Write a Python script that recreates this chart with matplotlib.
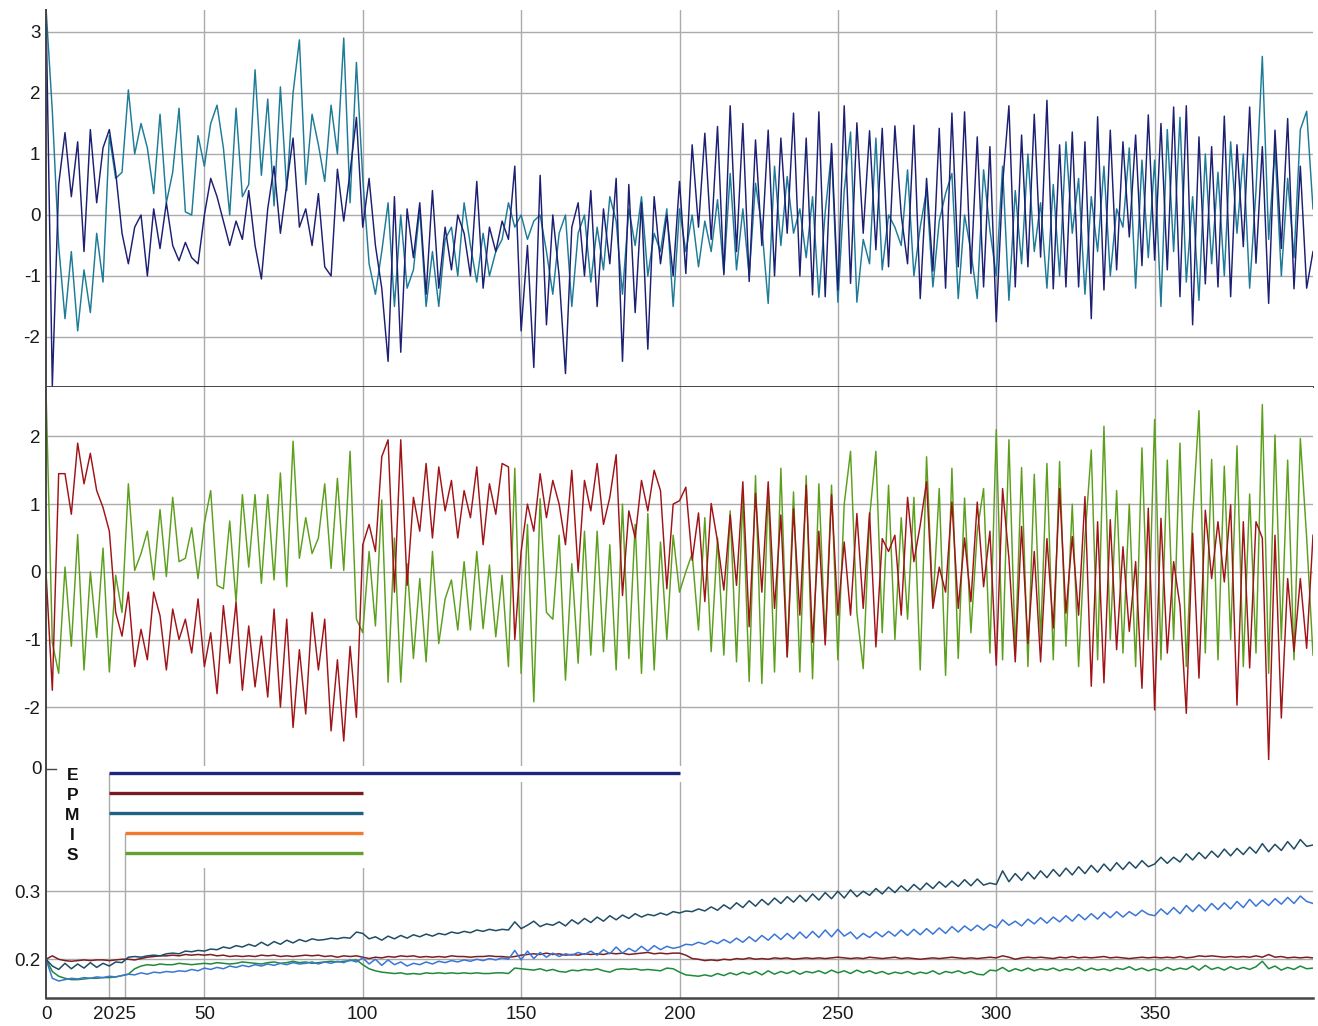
import numpy as np
import matplotlib
matplotlib.use('Agg')
import matplotlib.pyplot as plt
from matplotlib.patches import Rectangle

plt.rcParams['font.family'] = ['Liberation Sans', 'DejaVu Sans']
plt.rcParams['axes.unicode_minus'] = False

# ---- data, one value every 2 steps (x = 0, 2, ..., 400) ----
# upper panel
navy = [3.4, -2.8, 0.5, 1.35, 0.3, 1.2, -0.6, 1.4, 0.2, 1.1, 1.4, 0.7, -0.3, -0.8, -0.2, 0.0, -1.0, 0.1, -0.55, 0.2, -0.5, -0.75, -0.45, -0.7, -0.8,
        0.0, 0.6, 0.3, -0.1, -0.5, -0.1, -0.4, 0.4, -0.5, -1.05, 0.1, 0.8, -0.3, 0.5, 1.26, -0.2, 0.1, -0.5, 0.35, -0.85, -1.0, 0.75, -0.1, 0.7, 1.6,
        -0.2, 0.6, -0.5, -1.2, -2.4, 0.3, -2.25, 0.1, -0.7, 0.2, -1.3, 0.4, -1.2, -0.2, -0.9, 0.0, -0.3, -1.0, 0.55, -1.2, -0.2, -0.6, -0.1, -0.4, 0.8,
        -1.9, -0.5, -2.5, 0.65, -1.8, 0.0, -1.0, -2.6, -0.2, 0.2, -1.0, 0.4, -1.5, 0.1, -0.8, 0.6, -2.4, 0.5, -1.6, 0.2, -2.2, 0.3, -0.8, 0.0, -1.0,
        0.55, -0.96, 1.15, -0.2, 1.34, -0.4, 1.45, -0.98, 1.79, -0.6, 1.5, -1.09, 1.23, -0.5, 1.39, -1.0, 1.26, -0.3, 1.67, -1.0, 1.26, -1.31, 1.69, -1.34, 1.17,
        -1.23, 1.79, -1.12, 1.51, -0.3, 1.38, -0.57, 1.42, -0.85, 1.46, 0.0, -0.8, 1.47, -1.37, 0.6, -0.92, 1.42, -1.2, 1.67, -0.85, 1.69, -0.96, 1.28, -1.18, 1.12,
        -1.75, 0.5, 1.79, -1.18, 1.31, -0.85, 1.65, -0.69, 1.88, -1.21, 1.15, -1.18, 1.36, -1.18, 1.2, -1.7, 1.61, -1.23, 1.39, -0.9, 1.2, -0.36, 1.31, -0.83, 1.64,
        -0.74, 1.5, -0.9, 1.77, -1.34, 1.79, -1.8, 1.28, -1.13, 1.12, -1.18, 1.62, -1.34, 1.15, -0.52, 1.77, -0.79, 1.12, -1.45, 1.39, -0.55, 1.58, -1.21, 0.8, -1.2, -0.6]
teal = [3.4, 1.7, -0.5, -1.7, -0.6, -1.9, -0.9, -1.6, -0.3, -1.1, 1.3, 0.6, 0.7, 2.05, 1.0, 1.5, 1.1, 0.35, 1.65, 0.2, 0.7, 1.75, 0.05, 0.0, 1.3,
        0.8, 1.5, 1.8, 1.1, 0.0, 1.75, 0.3, 0.5, 2.38, 0.65, 1.9, 0.15, 2.1, 0.4, 2.0, 2.87, 0.5, 1.65, 1.15, 0.55, 1.8, 1.0, 2.9, 0.2, 2.5,
        0.6, -0.8, -1.3, -0.6, 0.2, -1.5, 0.0, -1.2, -0.9, 0.1, -1.5, -0.6, -1.5, -0.4, -0.2, -1.0, 0.2, -0.5, -1.1, -0.3, -1.0, -0.6, -0.4, 0.2, -0.2,
        0.0, -0.4, -0.1, 0.0, -0.6, -1.3, -0.3, 0.0, -1.5, -0.3, 0.0, -1.1, -0.2, -0.9, 0.3, -0.1, -1.3, 0.1, -0.5, 0.3, -1.0, -0.3, -0.6, 0.1, -1.5,
        0.1, -0.6, 0.0, -0.85, -0.1, -0.6, 0.25, -0.95, 0.68, -0.9, 0.1, -1.0, 0.52, -0.2, -1.45, 0.8, -0.5, 0.63, -0.3, 0.1, -0.7, 0.3, -1.35, 0.05, 1.03,
        -1.43, 0.4, 1.36, -1.43, -0.4, -0.8, 1.26, -0.9, 0.0, -0.2, -0.5, 0.74, -1.0, -0.2, 0.41, -1.18, -0.1, 0.35, 0.68, -1.37, 0.0, -0.6, -1.37, 0.74, -0.25,
        -1.0, 0.8, -1.4, 0.4, -0.8, 1.0, -0.6, 0.2, -1.2, 0.5, -1.0, 1.2, -0.3, 0.6, -1.3, 0.3, -0.6, 0.8, -1.0, 0.1, -0.2, 1.1, -1.2, 0.9, -0.7,
        0.9, -1.5, 1.4, -0.6, 1.6, -1.1, 0.3, -1.4, 1.0, -0.8, 0.7, -1.0, 1.2, -0.3, 1.0, -1.2, 0.4, 2.6, -0.4, 1.1, -1.0, 0.6, -0.7, 1.4, 1.7, 0.1]

# middle panel
red = [0.0, -1.75, 1.45, 1.45, 0.85, 1.9, 1.3, 1.75, 1.2, 0.95, 0.6, -0.6, -0.95, -0.3, -1.4, -0.85, -1.3, -0.3, -0.65, -1.45, -0.55, -1.0, -0.7, -1.2, -0.4,
       -1.4, -0.9, -1.8, -0.5, -1.35, -0.45, -1.75, -0.8, -1.7, -0.95, -1.85, -0.55, -2.0, -0.7, -2.3, -1.15, -2.1, -0.6, -1.45, -0.7, -2.35, -1.3, -2.5, -1.1, -2.15,
       0.4, 0.7, 0.3, 1.7, 1.95, -0.3, 1.95, -0.2, 1.1, 0.6, 1.6, 0.5, 1.55, 0.9, 1.35, 0.5, 1.2, 0.8, 1.55, 0.4, 1.3, 0.85, 1.6, 1.55, -1.0,
       0.3, 1.0, 0.6, 1.45, 0.8, 1.35, 1.0, 0.4, 1.5, 0.0, 1.35, 0.9, 1.6, 0.7, 1.1, 1.73, -0.35, 0.9, 0.5, 1.35, 0.9, 1.5, 1.2, -0.25, 1.0,
       1.05, 1.25, 0.17, 0.87, -0.44, 1.01, 0.45, -0.27, 0.84, -0.2, 1.33, -0.81, 1.16, -0.3, 1.33, -0.54, 0.84, -1.26, 0.93, -0.64, 1.28, -1.04, 0.6, -1.08, 1.14,
       -0.64, 0.44, -0.64, 0.86, -0.54, 0.87, -1.11, 0.49, 0.3, 0.54, -0.64, 1.1, 0.15, 0.69, 1.33, -0.54, 0.07, -0.3, 1.03, -0.54, 0.5, -0.44, 1.03, -0.22, 0.6,
       -1.38, 1.23, 0.2, -1.33, 0.67, -1.06, 0.3, -1.33, 0.49, -0.83, 1.23, -0.61, 0.52, -0.64, 1.11, -1.69, 0.74, -1.64, 0.77, -1.15, 0.37, -0.88, 0.15, -1.72, 0.94,
       -2.04, 0.79, -1.2, 0.15, -0.5, -2.09, 0.57, -1.57, 0.91, -0.1, 0.74, -0.15, 0.99, -1.97, 0.74, -1.42, 0.74, 0.5, -2.78, 0.54, -2.16, -0.1, -1.18, -0.1, -1.13, 0.54]
green = [2.7, -1.05, -1.5, 0.07, -1.1, 0.55, -1.45, 0.0, -0.97, 0.35, -1.48, -0.05, -0.6, 1.3, 0.02, 0.27, 0.6, -0.12, 0.92, -0.07, 1.1, 0.15, 0.2, 0.65, -0.1,
         0.72, 1.2, -0.2, -0.25, 0.75, -0.45, 1.14, 0.07, 1.14, -0.17, 1.14, -0.12, 1.46, -0.22, 1.93, 0.2, 0.8, 0.27, 0.5, 1.3, 0.05, 1.38, 0.02, 1.78, -0.7,
         -0.9, 0.3, -0.8, 1.06, -1.63, 0.5, -1.63, 0.12, -1.28, -0.1, -1.33, 0.3, -1.06, -0.4, -0.12, -0.86, 0.15, -0.86, 0.3, -0.84, 0.1, -0.96, -0.05, -1.4, 1.53,
         -1.5, 0.7, -1.92, 1.08, -0.6, -0.7, 0.54, -1.6, 0.12, -1.35, 0.6, -1.23, 0.6, -1.18, 0.4, -1.45, 1.0, -1.28, 0.7, -1.5, 0.86, -1.45, 0.44, -1.0, 0.54,
         -0.3, 0.0, 0.27, -0.86, 0.8, -1.18, 0.5, -1.23, 0.9, -1.33, 1.1, -1.62, 1.42, -1.65, 1.23, -1.48, 1.53, -1.25, 1.18, -1.48, 1.42, -1.58, 1.3, -1.03, 1.28,
         -1.3, 1.0, 1.78, -0.6, -1.43, 0.8, 1.78, -0.9, 1.28, -1.0, 0.8, -0.7, 1.1, -1.45, 1.7, -0.5, 1.23, -1.53, 1.53, -1.28, 1.09, -0.9, 0.6, 1.23, -1.2,
         2.1, -1.3, 1.95, -1.2, 1.54, -1.4, 1.44, -1.0, 1.6, -1.3, 1.63, -1.1, 1.0, -1.4, 0.5, 1.8, -1.3, 2.15, -1.0, 1.2, -1.2, 1.0, -1.4, 1.83, -1.0,
         2.25, -1.3, 1.65, -1.0, 1.9, -1.4, 0.8, 2.38, -1.2, 1.66, -1.3, 1.56, -1.0, 1.86, -1.4, 1.15, -1.2, 2.47, -1.5, 2.02, -1.0, 1.65, -1.3, 1.97, 0.5, -1.23]

# lower panel
slate = [0.200, 0.190, 0.185, 0.194, 0.186, 0.193, 0.187, 0.195, 0.188, 0.194, 0.190, 0.196, 0.195, 0.203, 0.204, 0.203, 0.205, 0.206, 0.205, 0.208, 0.209, 0.208, 0.212, 0.211, 0.213,
         0.212, 0.215, 0.214, 0.218, 0.216, 0.220, 0.218, 0.222, 0.219, 0.225, 0.220, 0.226, 0.222, 0.228, 0.224, 0.229, 0.226, 0.230, 0.228, 0.229, 0.231, 0.230, 0.232, 0.231, 0.240,
         0.238, 0.230, 0.233, 0.228, 0.234, 0.230, 0.235, 0.231, 0.236, 0.233, 0.237, 0.234, 0.238, 0.236, 0.240, 0.238, 0.241, 0.239, 0.243, 0.241, 0.244, 0.242, 0.244, 0.243, 0.255,
         0.245, 0.250, 0.256, 0.248, 0.252, 0.250, 0.255, 0.249, 0.258, 0.252, 0.260, 0.254, 0.262, 0.256, 0.264, 0.258, 0.265, 0.260, 0.267, 0.262, 0.266, 0.264, 0.268, 0.265, 0.270,
         0.268, 0.271, 0.270, 0.274, 0.271, 0.277, 0.272, 0.280, 0.274, 0.283, 0.276, 0.286, 0.278, 0.288, 0.280, 0.290, 0.282, 0.292, 0.284, 0.294, 0.285, 0.296, 0.287, 0.298, 0.289,
         0.300, 0.290, 0.302, 0.292, 0.300, 0.294, 0.304, 0.296, 0.306, 0.298, 0.308, 0.300, 0.310, 0.302, 0.312, 0.304, 0.314, 0.306, 0.315, 0.307, 0.317, 0.308, 0.318, 0.309, 0.312,
         0.310, 0.330, 0.314, 0.326, 0.316, 0.328, 0.318, 0.330, 0.320, 0.332, 0.322, 0.334, 0.324, 0.336, 0.326, 0.338, 0.328, 0.340, 0.330, 0.342, 0.332, 0.343, 0.334, 0.345, 0.336,
         0.340, 0.350, 0.341, 0.350, 0.343, 0.355, 0.346, 0.357, 0.348, 0.359, 0.350, 0.362, 0.352, 0.363, 0.354, 0.365, 0.356, 0.370, 0.358, 0.369, 0.360, 0.373, 0.362, 0.376, 0.366, 0.368]
blue = [0.200, 0.172, 0.168, 0.170, 0.172, 0.171, 0.173, 0.172, 0.174, 0.173, 0.175, 0.174, 0.176, 0.178, 0.177, 0.180, 0.178, 0.181, 0.180, 0.182, 0.181, 0.183, 0.182, 0.185, 0.183,
        0.187, 0.185, 0.188, 0.186, 0.190, 0.188, 0.191, 0.189, 0.192, 0.190, 0.193, 0.191, 0.194, 0.192, 0.195, 0.193, 0.194, 0.196, 0.193, 0.196, 0.194, 0.197, 0.195, 0.199, 0.196,
        0.202, 0.193, 0.200, 0.191, 0.199, 0.192, 0.196, 0.190, 0.194, 0.192, 0.196, 0.193, 0.197, 0.195, 0.198, 0.196, 0.199, 0.197, 0.200, 0.198, 0.201, 0.199, 0.202, 0.200, 0.213,
        0.199, 0.212, 0.201, 0.210, 0.203, 0.209, 0.204, 0.208, 0.206, 0.210, 0.207, 0.212, 0.206, 0.214, 0.208, 0.218, 0.209, 0.216, 0.211, 0.219, 0.212, 0.220, 0.214, 0.219, 0.216,
        0.218, 0.222, 0.221, 0.225, 0.222, 0.227, 0.223, 0.229, 0.224, 0.231, 0.225, 0.233, 0.226, 0.235, 0.228, 0.237, 0.229, 0.238, 0.230, 0.240, 0.231, 0.241, 0.232, 0.243, 0.233,
        0.244, 0.234, 0.240, 0.230, 0.238, 0.232, 0.240, 0.233, 0.241, 0.234, 0.243, 0.235, 0.244, 0.236, 0.245, 0.237, 0.246, 0.238, 0.248, 0.240, 0.249, 0.242, 0.250, 0.243, 0.251,
        0.246, 0.258, 0.250, 0.256, 0.249, 0.259, 0.252, 0.261, 0.253, 0.262, 0.255, 0.264, 0.256, 0.266, 0.258, 0.267, 0.259, 0.269, 0.261, 0.270, 0.262, 0.270, 0.264, 0.272, 0.266,
        0.264, 0.274, 0.266, 0.276, 0.267, 0.279, 0.270, 0.280, 0.271, 0.282, 0.273, 0.283, 0.274, 0.285, 0.276, 0.288, 0.278, 0.287, 0.279, 0.289, 0.281, 0.291, 0.282, 0.293, 0.285, 0.282]
dred = [0.200, 0.205, 0.200, 0.198, 0.197, 0.198, 0.199, 0.198, 0.199, 0.199, 0.198, 0.199, 0.200, 0.200, 0.199, 0.201, 0.203, 0.204, 0.205, 0.205, 0.206, 0.205, 0.207, 0.206, 0.207,
        0.206, 0.207, 0.205, 0.206, 0.204, 0.205, 0.204, 0.205, 0.204, 0.206, 0.205, 0.206, 0.204, 0.205, 0.204, 0.205, 0.206, 0.205, 0.206, 0.204, 0.205, 0.203, 0.205, 0.204, 0.205,
        0.203, 0.201, 0.203, 0.202, 0.204, 0.203, 0.205, 0.204, 0.205, 0.203, 0.204, 0.203, 0.204, 0.203, 0.205, 0.204, 0.204, 0.203, 0.204, 0.204, 0.205, 0.204, 0.204, 0.203, 0.204,
        0.206, 0.207, 0.208, 0.207, 0.209, 0.207, 0.208, 0.206, 0.207, 0.206, 0.208, 0.207, 0.208, 0.207, 0.209, 0.208, 0.209, 0.207, 0.208, 0.209, 0.210, 0.208, 0.209, 0.208, 0.209,
        0.209, 0.206, 0.201, 0.200, 0.198, 0.199, 0.198, 0.200, 0.199, 0.201, 0.200, 0.202, 0.200, 0.201, 0.200, 0.202, 0.201, 0.202, 0.200, 0.201, 0.202, 0.201, 0.202, 0.201, 0.202,
        0.203, 0.202, 0.201, 0.202, 0.201, 0.203, 0.202, 0.201, 0.202, 0.203, 0.201, 0.202, 0.201, 0.200, 0.201, 0.202, 0.201, 0.202, 0.203, 0.202, 0.201, 0.202, 0.201, 0.202, 0.203,
        0.202, 0.205, 0.203, 0.200, 0.202, 0.203, 0.202, 0.203, 0.202, 0.201, 0.203, 0.202, 0.204, 0.202, 0.203, 0.202, 0.203, 0.204, 0.202, 0.203, 0.202, 0.201, 0.202, 0.203, 0.202,
        0.203, 0.202, 0.203, 0.202, 0.204, 0.202, 0.203, 0.205, 0.204, 0.205, 0.204, 0.203, 0.204, 0.203, 0.204, 0.203, 0.205, 0.203, 0.207, 0.203, 0.204, 0.202, 0.203, 0.202, 0.203, 0.202]
dgreen = [0.200, 0.182, 0.175, 0.172, 0.170, 0.170, 0.171, 0.172, 0.172, 0.173, 0.173, 0.174, 0.176, 0.178, 0.186, 0.190, 0.192, 0.191, 0.193, 0.192, 0.192, 0.194, 0.193, 0.192, 0.193,
          0.194, 0.193, 0.195, 0.194, 0.193, 0.194, 0.196, 0.195, 0.194, 0.193, 0.195, 0.196, 0.194, 0.195, 0.197, 0.195, 0.196, 0.194, 0.195, 0.196, 0.197, 0.196, 0.197, 0.198, 0.199,
          0.192, 0.186, 0.183, 0.181, 0.180, 0.179, 0.180, 0.178, 0.179, 0.178, 0.180, 0.179, 0.180, 0.179, 0.180, 0.179, 0.180, 0.179, 0.180, 0.179, 0.179, 0.180, 0.180, 0.179, 0.187,
          0.186, 0.185, 0.184, 0.186, 0.183, 0.185, 0.182, 0.181, 0.184, 0.183, 0.185, 0.184, 0.186, 0.183, 0.181, 0.185, 0.186, 0.185, 0.186, 0.184, 0.185, 0.184, 0.183, 0.187, 0.186,
          0.181, 0.177, 0.176, 0.175, 0.177, 0.175, 0.179, 0.176, 0.180, 0.177, 0.181, 0.178, 0.182, 0.177, 0.183, 0.178, 0.182, 0.179, 0.183, 0.178, 0.182, 0.180, 0.183, 0.179, 0.184,
          0.180, 0.183, 0.179, 0.184, 0.180, 0.183, 0.179, 0.182, 0.178, 0.181, 0.179, 0.182, 0.178, 0.181, 0.179, 0.183, 0.178, 0.182, 0.180, 0.183, 0.179, 0.182, 0.178, 0.177, 0.184,
          0.183, 0.188, 0.182, 0.186, 0.183, 0.187, 0.183, 0.186, 0.184, 0.187, 0.183, 0.186, 0.184, 0.188, 0.183, 0.187, 0.184, 0.186, 0.183, 0.187, 0.185, 0.189, 0.184, 0.187, 0.183,
          0.186, 0.183, 0.188, 0.184, 0.187, 0.185, 0.190, 0.184, 0.191, 0.185, 0.188, 0.184, 0.189, 0.185, 0.188, 0.185, 0.189, 0.197, 0.186, 0.190, 0.184, 0.188, 0.185, 0.190, 0.186, 0.187]

# period bars in the lower panel
bar_labels = ['E', 'P', 'M', 'I', 'S']
bar_start = [20, 20, 20, 25, 25]
bar_end = [200, 100, 100, 100, 100]
bar_colors = ['#1f2680', '#7a1a1e', '#1f6284', '#f07a2e', '#62a22c']

xticks_all = [0, 20, 25, 50, 100, 150, 200, 250, 300, 350]
grid_x = [50, 100, 150, 200, 250, 300, 350]

GRID = '#ababab'
SPINE = '#454545'
TXT = '#1a1a1a'
FS = 13.5


def xs(series):
    return np.arange(len(series)) * 2


fig = plt.figure(figsize=(13.18, 10.26), dpi=100)
L, W = 46 / 1318, 1267 / 1318


def px_axes(top, bottom):
    return fig.add_axes([L, 1 - bottom / 1026, W, (bottom - top) / 1026])


ax1 = px_axes(10, 387)
ax2 = px_axes(387, 760)
ax3 = px_axes(760, 998)

for ax in (ax1, ax2, ax3):
    ax.set_xlim(0, 400)
    ax.spines['top'].set_visible(False)
    ax.spines['right'].set_visible(False)
    ax.spines['left'].set_color(SPINE)
    ax.spines['left'].set_linewidth(1.4)
    ax.spines['bottom'].set_color(SPINE)
    ax.spines['bottom'].set_linewidth(1.4)
    ax.tick_params(length=0, labelsize=FS, labelcolor=TXT, pad=4)
    ax.set_axisbelow(True)

# upper panel
ax1.set_ylim(-2.82, 3.36)
ax1.set_yticks([-2, -1, 0, 1, 2, 3])
ax1.set_xticks(grid_x)
ax1.set_xticklabels([])
ax1.grid(True, color=GRID, lw=1.0)
ax1.plot(xs(teal), teal, color='#1d7b98', lw=1.05)
ax1.plot(xs(navy), navy, color='#1c1f72', lw=1.05)

# middle panel
ax2.set_ylim(-2.78, 2.73)
ax2.set_yticks([-2, -1, 0, 1, 2])
ax2.set_xticks(grid_x)
ax2.set_xticklabels([])
ax2.spines['bottom'].set_visible(False)
ax2.grid(True, color=GRID, lw=1.0)
ax2.plot(xs(green), green, color='#5c9f1c', lw=1.05)
ax2.plot(xs(red), red, color='#a01418', lw=1.05)

# lower panel
ax3.set_ylim(0.143, 0.493)
ax3.set_yticks([0.2, 0.3])
ax3.set_yticklabels(['0.2', '0.3'])
ax3.set_xticks(xticks_all)
ax3.set_xticklabels(['' if v == 20 else str(v) for v in xticks_all])
ax3.tick_params(axis='x', pad=6)
ax3.spines['bottom'].set_linewidth(1.8)
# the "20" label sits tight against "25"
ax3.annotate('20', xy=(20, 0), xycoords=ax3.get_xaxis_transform(), xytext=(3, -6),
             textcoords='offset points', ha='right', va='top', fontsize=FS, color=TXT)

for v in grid_x:
    ax3.axvline(v, color=GRID, lw=1.0, zorder=0.5)
for v in (0.2, 0.3):
    ax3.axhline(v, color=GRID, lw=1.0, zorder=0.5)

# white box behind the period bars
ax3.add_patch(Rectangle((0.3, 0.334), 100.7, 0.1498, facecolor='white', edgecolor='none', zorder=1))
ax3.add_patch(Rectangle((100, 0.4603), 101.5, 0.0235, facecolor='white', edgecolor='none', zorder=1))

bar_y = [0.4735 - i * 0.0294 for i in range(len(bar_labels))]
ax3.vlines([20, 25], 0.143, [bar_y[0], bar_y[3]], color=GRID, lw=1.0, zorder=1.2)
ax3.hlines(bar_y, bar_start, bar_end, colors=bar_colors, lw=2.4, zorder=3)
for lab, y in zip(bar_labels, bar_y):
    ax3.text(8.3, y - 0.003, lab, fontsize=12.5, fontweight='bold', ha='center', va='center', color='#111111')

ax3.text(-4 / 1267, 0.4794, '0', transform=ax3.get_yaxis_transform(), ha='right', va='center',
         fontsize=FS, color=TXT)
ax3.plot([0, 10 / 1267], [0.4794, 0.4794], transform=ax3.get_yaxis_transform(), color=SPINE,
         lw=1.0, clip_on=False)

ax3.plot(xs(dgreen), dgreen, color='#1f8a3a', lw=1.1)
ax3.plot(xs(dred), dred, color='#7b1f22', lw=1.1)
ax3.plot(xs(blue), blue, color='#3a76d6', lw=1.1)
ax3.plot(xs(slate), slate, color='#1f4c66', lw=1.1)

fig.savefig('out.png', dpi=100, facecolor='white')
